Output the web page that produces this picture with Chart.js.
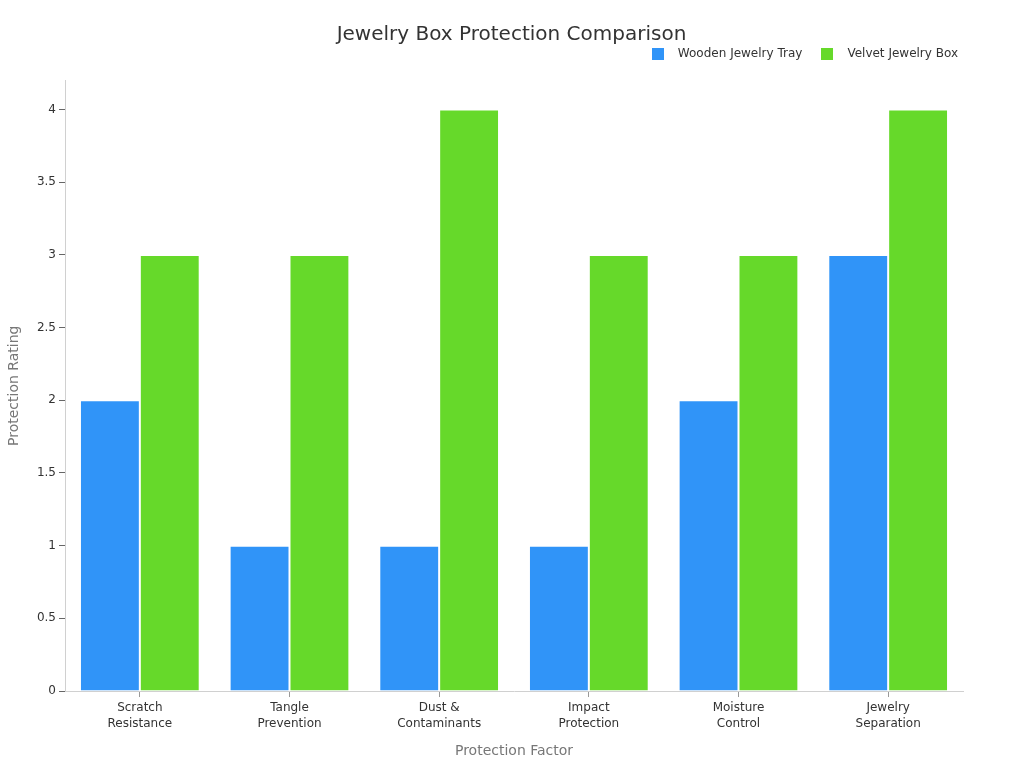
<!DOCTYPE html>
<html>
<head>
<meta charset="utf-8">
<script src="https://cdn.jsdelivr.net/npm/chart.js@4/dist/chart.umd.min.js"></script>
<style>
  html, body { margin: 0; padding: 0; background: #fff; }
  #wrap { width: 1024px; height: 768px; }
</style>
</head>
<body>
<div id="wrap"><canvas id="chart"></canvas></div>
<script>
const categories = [
  ["Scratch", "Resistance"],
  ["Tangle", "Prevention"],
  ["Dust &", "Contaminants"],
  ["Impact", "Protection"],
  ["Moisture", "Control"],
  ["Jewelry", "Separation"]
];
const seriesNames = ["Wooden Jewelry Tray", "Velvet Jewelry Box"];
const woodenTray = [2, 1, 1, 1, 2, 3];
const velvetBox = [3, 3, 4, 3, 3, 4];
const yTicks = [0, 0.5, 1, 1.5, 2, 2.5, 3, 3.5, 4];

const colors = ["#3094f8", "#66d92a"];
const axisLine = "#d0d0d0";

Chart.defaults.font.family = "'DejaVu Sans', sans-serif";
Chart.defaults.color = "#333";

// little square swatches so the legend gap matches
function swatch(color) {
  const c = document.createElement("canvas");
  c.width = 12; c.height = 12;
  const g = c.getContext("2d");
  g.fillStyle = color;
  g.fillRect(0, 0, 12, 12);
  return c;
}
const swatches = colors.map(swatch);

// nudge title and legend into place after layout
const nudge = {
  id: "nudge",
  afterLayout(chart) {
    const t = chart.titleBlock, l = chart.legend;
    t.top += 9; t.bottom += 9; t.left += 30; t.right += 30;
    l.top -= 10.5; l.bottom -= 10.5; l.right += 6;
  }
};

new Chart(document.getElementById("chart").getContext("2d"), {
  type: "bar",
  data: {
    labels: categories,
    datasets: [
      { label: seriesNames[0], data: woodenTray, backgroundColor: colors[0], borderColor: "#ffffff", borderWidth: 1 },
      { label: seriesNames[1], data: velvetBox, backgroundColor: colors[1], borderColor: "#ffffff", borderWidth: 1 }
    ]
  },
  plugins: [nudge],
  options: {
    responsive: true,
    maintainAspectRatio: false,
    animation: false,
    layout: { padding: { left: 0, right: 61, top: 6, bottom: 4 } },
    datasets: { bar: { categoryPercentage: 0.8, barPercentage: 1.0 } },
    plugins: {
      title: {
        display: true,
        text: "Jewelry Box Protection Comparison",
        font: { size: 20, weight: "normal" },
        color: "#333",
        padding: { top: 8, bottom: 9.5 }
      },
      legend: {
        align: "end",
        labels: {
          usePointStyle: true,
          pointStyleWidth: 28,
          boxHeight: 12,
          font: { size: 12 },
          padding: 11,
          generateLabels: (chart) => {
            const items = Chart.defaults.plugins.legend.labels.generateLabels(chart);
            items.forEach((it, i) => { it.pointStyle = swatches[i]; });
            return items;
          }
        }
      },
      tooltip: { enabled: false }
    },
    scales: {
      x: {
        grid: { display: true, drawOnChartArea: false, drawTicks: true, tickLength: 6, offset: false, color: "#999" },
        border: { color: axisLine },
        ticks: { font: { size: 12, lineHeight: 1.34 }, color: "#333", maxRotation: 0 },
        title: { display: true, text: "Protection Factor", font: { size: 14 }, color: "#777", padding: { top: 8, bottom: 4 } }
      },
      y: {
        min: 0,
        max: 4.2,
        afterFit: (axis) => { axis.width = 65; },
        grid: { display: true, drawOnChartArea: false, drawTicks: true, tickLength: 6, color: "#666" },
        border: { color: axisLine },
        afterBuildTicks: (axis) => {
          axis.ticks = yTicks.map(v => ({ value: v }));
        },
        ticks: { font: { size: 12 }, color: "#333", callback: (v) => String(v) },
        title: { display: true, text: "Protection Rating", font: { size: 14 }, color: "#777", padding: { top: 6, bottom: 6 } }
      }
    }
  }
});
</script>
</body>
</html>
